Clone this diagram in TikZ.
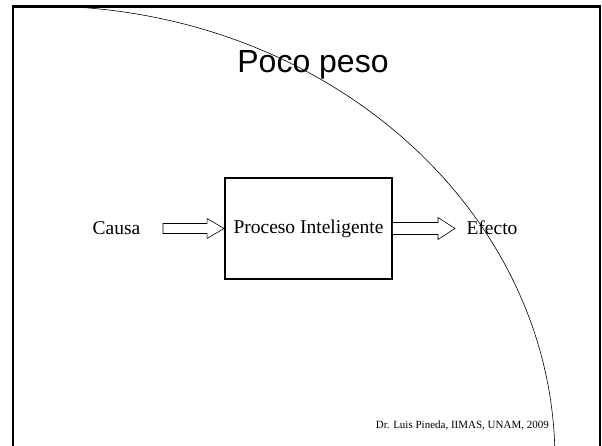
\documentclass[tikz,border=0pt]{standalone}
\usepackage{fontspec}
\setmainfont{Liberation Serif}
\newfontfamily\titlefont{Liberation Sans}
\usetikzlibrary{calc}
\begin{document}
\begin{tikzpicture}[x=1pt,y=-1pt,
  frameline/.style={line width=2.5pt},
  arcline/.style={line width=0.6pt},
  boxnode/.style={draw,line width=1.9pt,minimum width=167pt,minimum height=101pt,inner sep=0pt,font=\fontsize{19.5}{22}\selectfont},
  lbl/.style={font=\fontsize{19.5}{22}\selectfont,inner sep=0pt,anchor=base},
  blockarrow/.style={draw,line width=0.6pt,fill=white,line join=miter}]
\useasboundingbox (0,0) rectangle (602,446);
% frame (open at the bottom)
\draw[frameline] (13,470) -- (13,6.5) -- (600,6.5) -- (600,470);
% box and labels
\node[boxnode] (box) at (308.5,228.5) {Proceso Inteligente};
\node[lbl] (causa) at (116.5,235) {Causa};
\node[lbl] (efecto) at (492,235) {Efecto};
\node[font=\fontsize{11}{13}\selectfont,anchor=base east,inner sep=0pt] (footer) at (549,428) {Dr. Luis Pineda, IIMAS, UNAM, 2009};
% hollow block arrows
\coordinate (la) at (163,228.5);
\coordinate (ra) at (455,228.5);
\draw[blockarrow] ($(la)+(0,-5)$) -- ($(box.west)+(-17,-5)$) -- ($(box.west)+(-17,-10)$) -- (box.west)
  -- ($(box.west)+(-17,10)$) -- ($(box.west)+(-17,5)$) -- ($(la)+(0,5)$) -- cycle;
\draw[blockarrow] ($(box.east)+(0,-6)$) -- ($(ra)+(-17,-6)$) -- ($(ra)+(-17,-11)$) -- (ra)
  -- ($(ra)+(-17,11)$) -- ($(ra)+(-17,6)$) -- ($(box.east)+(0,6)$);
% title
\node[font=\titlefont\fontsize{32}{38}\selectfont,anchor=base,inner sep=0pt] (title) at (313,73) {Poco peso};
% big arc
\draw[arcline] (40,6) arc[start angle=-90,end angle=0,x radius=515,y radius=454];
\end{tikzpicture}
\end{document}
